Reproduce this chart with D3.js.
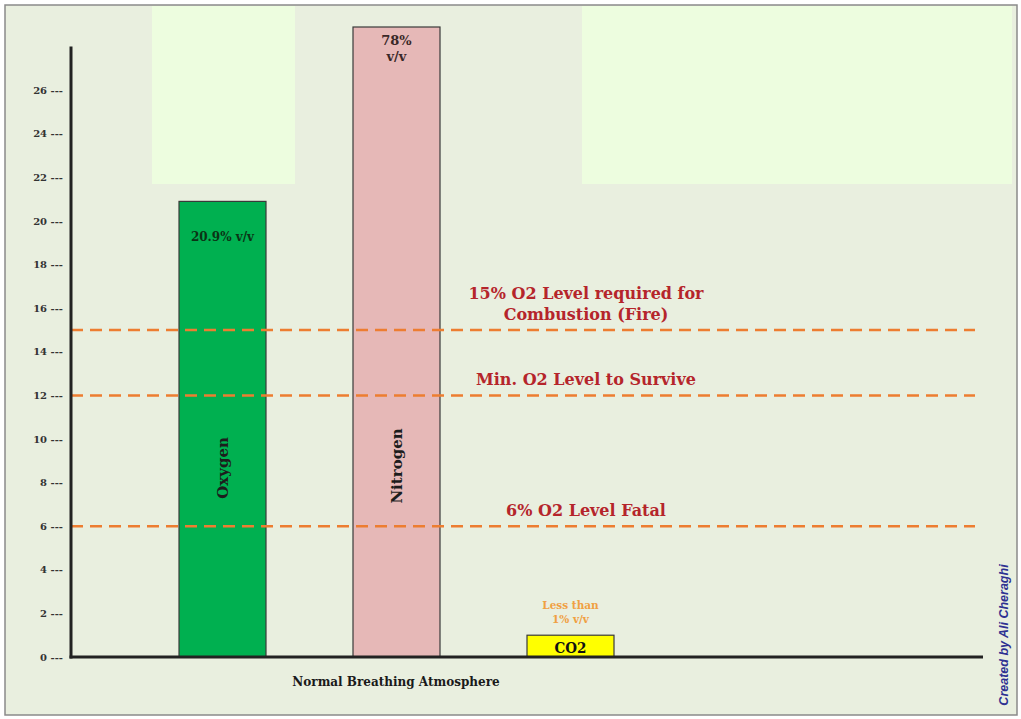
<!DOCTYPE html>
<html>
<head>
<meta charset="utf-8">
<script src="https://cdn.jsdelivr.net/npm/d3@7"></script>
<style>
  body { margin: 0; background: #fff; }
  svg { display: block; }
  .tick-label { font-family: 'DejaVu Serif', serif; font-weight: bold; font-size: 10px; fill: #333; }
  .note { font-family: 'DejaVu Serif', serif; font-weight: bold; font-size: 16px; fill: #b5252b; }
</style>
</head>
<body>
<svg id="chart" width="1021" height="719"></svg>
<script>
// Gas share in normal breathing air (% v/v)
const gases = ['Oxygen', 'Nitrogen', 'CO2']
const gasValues = [20.9, 78, 1]
const gasLabels = [['20.9% v/v'], ['78%', 'v/v'], ['Less than', '1% v/v']]
const gasColors = ['#00b050', '#e6b8b7', '#ffff00']

// O2 reference levels
const levelValues = [15, 12, 6]
const levelLabels = [['15% O2 Level required for', 'Combustion (Fire)'], ['Min. O2 Level to Survive'], ['6% O2 Level Fatal']]

const yTicks = [0, 2, 4, 6, 8, 10, 12, 14, 16, 18, 20, 22, 24, 26]
const yMax = 28 // top of the drawn axis
const yCap = 28.9 // tall bars are cut off here

const svg = d3.select('#chart')
const margin = { top: 27, bottom: 62, left: 71, right: 38 }
const width = 1021
const height = 719
const baseY = height - margin.bottom
const serif = "'DejaVu Serif', serif"

// Frame and background
svg.append('rect')
  .attr('x', 5).attr('y', 5).attr('width', 1012).attr('height', 710)
  .attr('fill', '#e9efdf')
  .attr('stroke', '#8a8a8a').attr('stroke-width', 1.5)

// Light panels behind the plot
svg.append('rect').attr('x', 152).attr('y', 6).attr('width', 143).attr('height', 178).attr('fill', '#edfddf')
svg.append('rect').attr('x', 582).attr('y', 6).attr('width', 430).attr('height', 178).attr('fill', '#edfddf')

const y = d3.scaleLinear()
  .domain([0, yCap])
  .range([baseY, margin.top])
  .clamp(true)

const x = d3.scaleBand()
  .domain(gases)
  .range([135.5, 657.5])
  .paddingInner(0.5)
  .paddingOuter(0.25)

// Bars
const bars = svg.append('g')
  .selectAll('g')
  .data(gases.map((g, i) => ({ name: g, value: gasValues[i], color: gasColors[i], label: gasLabels[i] })))
  .enter()
  .append('g')

bars.append('rect')
  .attr('x', d => x(d.name))
  .attr('y', d => y(d.value))
  .attr('width', x.bandwidth())
  .attr('height', d => baseY - y(d.value))
  .attr('fill', d => d.color)
  .attr('stroke', '#3a3a3a')
  .attr('stroke-width', 1.2)

// Reference lines (over the bars)
svg.append('g')
  .selectAll('line')
  .data(levelValues)
  .enter()
  .append('line')
  .attr('x1', margin.left).attr('x2', 975)
  .attr('y1', d => y(d)).attr('y2', d => y(d))
  .attr('stroke', '#ed7d31')
  .attr('stroke-width', 2.5)
  .attr('stroke-dasharray', '12,7')

// Axes (drawn as plain lines, ticks as text with dashes)
svg.append('line')
  .attr('x1', margin.left).attr('x2', margin.left)
  .attr('y1', y(yMax)).attr('y2', baseY + 1.5)
  .attr('stroke', '#222').attr('stroke-width', 3)
svg.append('line')
  .attr('x1', margin.left - 1.5).attr('x2', width - margin.right)
  .attr('y1', baseY).attr('y2', baseY)
  .attr('stroke', '#222').attr('stroke-width', 3)

svg.append('g')
  .selectAll('text')
  .data(yTicks)
  .enter()
  .append('text')
  .attr('class', 'tick-label')
  .attr('x', 63)
  .attr('y', d => y(d))
  .attr('dy', '0.35em')
  .attr('text-anchor', 'end')
  .text(d => `${d} ---`)

// Value labels
const cx = d => x(d) + x.bandwidth() / 2
svg.append('text')
  .attr('x', cx('Oxygen')).attr('y', y(20.9) + 40)
  .attr('text-anchor', 'middle')
  .style('font', `bold 12px ${serif}`).style('fill', '#0b3315')
  .text(gasLabels[0][0])

gasLabels[1].forEach((t, i) => {
  svg.append('text')
    .attr('x', cx('Nitrogen')).attr('y', 45 + i * 16)
    .attr('text-anchor', 'middle')
    .style('font', `bold 13px ${serif}`).style('fill', '#3a2828')
    .text(t)
})

gasLabels[2].forEach((t, i) => {
  svg.append('text')
    .attr('x', cx('CO2')).attr('y', y(1) - 26 + i * 14)
    .attr('text-anchor', 'middle')
    .style('font', `bold 10.5px ${serif}`).style('fill', '#f0a042')
    .text(t)
})

svg.append('text')
  .attr('x', cx('CO2')).attr('y', baseY - 4)
  .attr('text-anchor', 'middle')
  .style('font', `bold 15px 'DejaVu Serif Condensed', ${serif}`).style('fill', '#111')
  .text('CO2')

// Rotated names inside bars
;[['Oxygen', 468], ['Nitrogen', 466]].forEach(([g, cy]) => {
  svg.append('text')
    .attr('transform', `translate(${cx(g) + 5}, ${cy}) rotate(-90)`)
    .attr('text-anchor', 'middle')
    .style('font', `bold 15px ${serif}`).style('fill', '#1d1d1d')
    .text(g)
})

// Reference level notes
levelValues.forEach((v, i) => {
  const lines = levelLabels[i]
  lines.forEach((t, j) => {
    svg.append('text')
      .attr('class', 'note')
      .attr('x', 586)
      .attr('y', y(v) - 10 - (lines.length - 1 - j) * 21)
      .attr('text-anchor', 'middle')
      .text(t)
  })
})

// X axis caption
svg.append('text')
  .attr('x', 396).attr('y', 686)
  .attr('text-anchor', 'middle')
  .style('font', `bold 12px ${serif}`).style('fill', '#1a1a1a')
  .text('Normal Breathing Atmosphere')

// Credit
svg.append('text')
  .attr('transform', 'translate(1008, 635) rotate(-90)')
  .attr('text-anchor', 'middle')
  .style('font', "italic bold 12.5px 'Liberation Sans', sans-serif").style('fill', '#2e3192')
  .text('Created by Ali Cheraghi')
</script>
</body>
</html>
